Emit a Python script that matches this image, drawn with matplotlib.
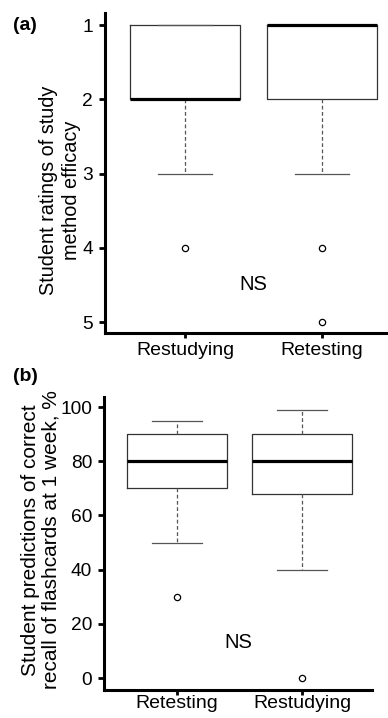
import matplotlib
matplotlib.use("Agg")
import matplotlib.pyplot as plt

plt.rcParams["font.family"] = ["Liberation Sans", "DejaVu Sans"]

# (a) study method efficacy ratings (1 = best)
cats_a = ["Restudying", "Retesting"]
q1_a = [1, 1]
med_a = [2, 1]
q3_a = [2, 2]
whislo_a = [1, 1]
whishi_a = [3, 3]
fliers_a = [[4], [4, 5]]

# (b) predicted recall at 1 week, %
cats_b = ["Retesting", "Restudying"]
q1_b = [70, 68]
med_b = [80, 80]
q3_b = [90, 90]
whislo_b = [50, 40]
whishi_b = [95, 99]
fliers_b = [[30], [0]]


def make_stats(cats, q1, med, q3, lo, hi, fl):
    return [
        dict(label=c, q1=a, med=m, q3=b, whislo=l, whishi=h, fliers=f)
        for c, a, m, b, l, h, f in zip(cats, q1, med, q3, lo, hi, fl)
    ]


def draw_box(ax, stats, xpad):
    ax.bxp(
        stats, positions=[1, 2], widths=0.8, showfliers=True,
        boxprops=dict(color="#333333", linewidth=0.9),
        medianprops=dict(color="black", linewidth=2.3, solid_capstyle="butt"),
        whiskerprops=dict(color="#555555", linewidth=0.9, linestyle=(0, (3, 2))),
        capprops=dict(color="#555555", linewidth=0.9),
        capwidths=0.4,
        flierprops=dict(marker="o", markersize=4.5, markerfacecolor="white",
                        markeredgecolor="black", markeredgewidth=0.9),
    )
    for side in ("top", "right"):
        ax.spines[side].set_visible(False)
    for side in ("left", "bottom"):
        ax.spines[side].set_linewidth(2.2)
    ax.tick_params(axis="y", direction="out", length=4.5, width=2, labelsize=13.8, pad=4)
    ax.tick_params(axis="x", direction="out", length=3.5, width=2, labelsize=14, pad=xpad)


fig = plt.figure(figsize=(3.88, 7.18), dpi=100)

# panel (a)
ax1 = fig.add_axes([105 / 388, 1 - 333 / 718, 283 / 388, 320 / 718])
draw_box(ax1, make_stats(cats_a, q1_a, med_a, q3_a, whislo_a, whishi_a, fliers_a), 3)
ax1.set_xlim(0.416, 2.482)
ax1.set_ylim(5.148, 0.838)
ax1.set_yticks([1, 2, 3, 4, 5])
ax1.text(-0.159, 0.447, "Student ratings of study\nmethod efficacy", transform=ax1.transAxes,
         fontsize=14.3, linespacing=1.25, rotation=90, ha="center", va="center")
ax1.text(1.5, 4.5, "NS", fontsize=14.5, ha="center", va="center")

# panel (b)
ax2 = fig.add_axes([104 / 388, 1 - 690 / 718, 268 / 388, 293 / 718])
draw_box(ax2, make_stats(cats_b, q1_b, med_b, q3_b, whislo_b, whishi_b, fliers_b), 0)
ax2.set_xlim(0.416, 2.56)
ax2.set_ylim(-4.4, 103.7)
ax2.set_yticks([0, 20, 40, 60, 80, 100])
ax2.text(-0.235, 0.512, "Student predictions of correct\nrecall of flashcards at 1 week, %",
         transform=ax2.transAxes, fontsize=15, linespacing=1.1, rotation=90,
         ha="center", va="center")
ax2.text(1.49, 13.3, "NS", fontsize=14.5, ha="center", va="center")

fig.text(25 / 388, 1 - 26 / 718, "(a)", fontsize=14, fontweight="bold", ha="center", va="center")
fig.text(25 / 388, 1 - 377 / 718, "(b)", fontsize=14, fontweight="bold", ha="center", va="center")

fig.savefig("out.png", dpi=100)
